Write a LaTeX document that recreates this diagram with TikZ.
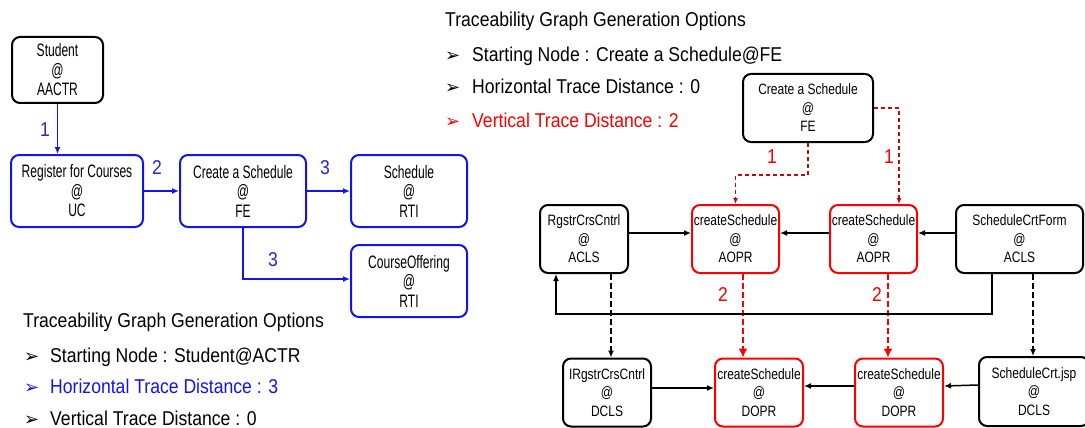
\documentclass[tikz,border=0pt]{standalone}
\usepackage{fontspec}
\setmainfont{Liberation Sans}
\newfontfamily\capfont[FakeStretch=0.88]{Liberation Sans}
\newfontfamily\lboxfont[FakeStretch=0.67]{Liberation Sans}
\newfontfamily\rboxfont[FakeStretch=0.8]{Liberation Sans}
\newfontfamily\bulfont{DejaVu Sans}
\usetikzlibrary{arrows.meta,calc}
\definecolor{myblue}{RGB}{20,20,230}
\definecolor{lblblue}{RGB}{40,40,200}
\definecolor{myred}{RGB}{250,0,0}
\definecolor{darkred}{RGB}{190,10,10}
\begin{document}
\begin{tikzpicture}[x=1pt,y=-1pt,
  box/.style={draw, line width=2pt, rounded corners=8pt, align=center, inner sep=0pt},
  lbox/.style={box, font=\lboxfont\fontsize{18}{19.5}\selectfont},
  bluebox/.style={lbox, draw=myblue},
  rbox/.style={box, font=\rboxfont\fontsize{15}{18.5}\selectfont},
  redbox/.style={rbox, draw=myred},
  captxt/.style={anchor=base west, inner sep=0pt, font=\capfont\fontsize{20}{22}\selectfont},
  bul/.style={anchor=base west, inner sep=0pt, font=\bulfont\fontsize{18}{20}\selectfont},
  num/.style={inner sep=0pt, font=\capfont\fontsize{20}{20}\selectfont},
  barr/.style={draw=myblue, line width=1.8pt, -{Latex[length=7pt,width=6pt]}},
  karr/.style={draw=black, line width=1.5pt, -{Latex[length=7pt,width=6pt]}},
  kdash/.style={karr, dash pattern=on 6pt off 3pt},
  rdash/.style={draw=myred, line width=1.5pt, dash pattern=on 6pt off 3pt, -{Latex[length=9pt,width=9pt]}},
  drdash/.style={draw=darkred, line width=1.3pt, dash pattern=on 4pt off 3pt, -{Latex[length=6pt,width=5pt]}}
]
\useasboundingbox (0,0) rectangle (1085,428);

% ---------- left diagram ----------
\node[lbox, minimum width=91pt, minimum height=66pt] (stu) at (57.5,70) {Student\\@\\AACTR};
\node[bluebox, minimum width=132pt, minimum height=72pt] (reg) at (77,191) {Register for Courses\\@\\UC};
\node[bluebox, minimum width=126pt, minimum height=72pt] (cas) at (243,191) {Create a Schedule\\@\\FE};
\node[bluebox, minimum width=116pt, minimum height=72pt] (sch) at (409,191) {Schedule\\@\\RTI};
\node[bluebox, minimum width=116pt, minimum height=72pt] (co) at (409,281) {CourseOffering\\@\\RTI};

\draw[barr] (stu.south) -- (stu.south |- reg.north);
\draw[barr] (reg.east) -- (cas.west);
\draw[barr] (cas.east) -- (sch.west);
\draw[barr] (cas.south) |- ([yshift=2pt]co.west);

\node[num, text=lblblue] (n1) at (45,130) {1};
\node[num, text=lblblue] (n2) at (157,168) {2};
\node[num, text=lblblue] (n3) at (325,168) {3};
\node[num, text=lblblue] (n4) at (273,260) {3};

\node[captxt] (lc0) at (23,327) {Traceability Graph Generation Options};
\node[bul] (lb1) at (24,362) {➢};
\node[captxt] (lc1) at (50,362) {Starting Node : Student@ACTR};
\node[bul, text=myblue] (lb2) at (24,393) {➢};
\node[captxt, text=myblue] (lc2) at (50,393) {Horizontal Trace Distance : 3};
\node[bul] (lb3) at (24,425) {➢};
\node[captxt] (lc3) at (50,425) {Vertical Trace Distance : 0};

% ---------- right captions ----------
\node[captxt] (rc0) at (445,27) {Traceability Graph Generation Options};
\node[bul] (rb1) at (445,62) {➢};
\node[captxt] (rc1) at (472,62) {Starting Node : Create a Schedule@FE};
\node[bul] (rb2) at (445,94) {➢};
\node[captxt] (rc2) at (472,94) {Horizontal Trace Distance : 0};
\node[bul, text=myred] (rb3) at (445,127) {➢};
\node[captxt, text=myred] (rc3) at (472,127) {Vertical Trace Distance : 2};

% ---------- right diagram ----------
\node[rbox, minimum width=130pt, minimum height=68pt] (top) at (808,108) {Create a Schedule\\@\\FE};
\node[rbox, minimum width=88pt, minimum height=68pt] (rg) at (584,239) {RgstrCrsCntrl\\@\\ACLS};
\node[redbox, minimum width=87pt, minimum height=68pt] (a1) at (735.5,239) {createSchedule\\@\\AOPR};
\node[redbox, minimum width=87pt, minimum height=68pt] (a2) at (873.5,239) {createSchedule\\@\\AOPR};
\node[rbox, minimum width=127pt, minimum height=68pt] (scf) at (1019.5,239) {ScheduleCrtForm\\@\\ACLS};
\node[rbox, minimum width=88pt, minimum height=68pt] (irg) at (607,392.5) {IRgstrCrsCntrl\\@\\DCLS};
\node[redbox, minimum width=88pt, minimum height=68pt] (d1) at (759,392.5) {createSchedule\\@\\DOPR};
\node[redbox, minimum width=88pt, minimum height=68pt] (d2) at (899,392.5) {createSchedule\\@\\DOPR};
\node[rbox, minimum width=110pt, minimum height=69pt] (jsp) at (1034,391.5) {ScheduleCrt.jsp\\@\\DCLS};

\coordinate (k1) at (808,175);
\coordinate (a2t) at ([xshift=25.5pt]a2.north);
\coordinate (lp) at (556,314);

\draw[drdash] (top.south) -- (k1) -| (a1.north);
\draw[drdash] (top.east) -| (a2t);

\draw[karr] ([yshift=6pt]rg.east) -- ([yshift=6pt]a1.west);
\draw[karr] ([yshift=6pt]a2.west) -- ([yshift=6pt]a1.east);
\draw[karr] ([yshift=6pt]scf.west) -- ([yshift=6pt]a2.east);

\draw[rdash] ([xshift=7.5pt]a1.south) -- ([xshift=7.5pt]a1.south |- d1.north);
\draw[rdash] ([xshift=14.5pt]a2.south) -- ([xshift=14.5pt]a2.south |- d2.north);

\draw[kdash] ([xshift=27pt]rg.south) -- ([xshift=27pt]rg.south |- irg.north);
\draw[kdash] ([xshift=13.5pt]scf.south) -- ([xshift=13.5pt]scf.south |- jsp.north);
\draw[karr] ([xshift=-27.5pt]scf.south) |- (lp) -- ([xshift=-28pt]rg.south);

\draw[karr] ([yshift=4.5pt]irg.east) -- ([yshift=4.5pt]d1.west);
\draw[karr] ([yshift=6.5pt]d2.west) -- ([yshift=6.5pt]d1.east);
\draw[karr] ([yshift=6.5pt]jsp.west) -- ([yshift=6.5pt]d2.east);

\node[num, text=myred] (r1) at (772,157) {1};
\node[num, text=myred] (r2) at (889,157) {1};
\node[num, text=myred] (r3) at (723,295) {2};
\node[num, text=myred] (r4) at (877,295) {2};
\end{tikzpicture}
\end{document}
